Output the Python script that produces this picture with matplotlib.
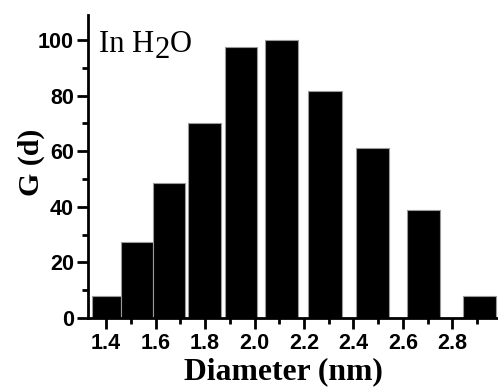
import matplotlib
matplotlib.use("Agg")
import matplotlib.pyplot as plt
from matplotlib.ticker import MultipleLocator

# Data
bin_left = [1.342, 1.462, 1.590, 1.733, 1.882, 2.042, 2.217, 2.410, 2.617, 2.841]
bin_right = [1.461, 1.589, 1.720, 1.866, 2.011, 2.177, 2.352, 2.543, 2.749, 2.976]
g_values = [7.8, 27.5, 48.5, 70.3, 97.5, 100.0, 81.5, 61.0, 39.0, 7.8]
x_ticks = [1.4, 1.6, 1.8, 2.0, 2.2, 2.4, 2.6, 2.8]
y_ticks = [0, 20, 40, 60, 80, 100]

W, H = 498, 388
fig = plt.figure(figsize=(W / 100, H / 100), dpi=100)
ax = fig.add_axes([88 / W, 70 / H, 410 / W, 303 / H])

widths = [r - l for l, r in zip(bin_left, bin_right)]
ax.bar(bin_left, g_values, width=widths, align="edge", color="black",
       edgecolor="#9a9a9a", linewidth=0.8, zorder=2)

ax.set_xlim(1.327, 2.984)
ax.set_ylim(0, 109)

for s in ["top", "right"]:
    ax.spines[s].set_visible(False)
for s in ["left", "bottom"]:
    ax.spines[s].set_linewidth(2)
    ax.spines[s].set_zorder(3)

ax.set_xticks(x_ticks)
ax.set_xticklabels([f"{v:.1f}" for v in x_ticks])
ax.set_yticks(y_ticks)
ax.xaxis.set_minor_locator(MultipleLocator(0.1))
ax.yaxis.set_minor_locator(MultipleLocator(10))
ax.tick_params(which="major", direction="out", length=8, width=2)
ax.tick_params(which="minor", direction="out", length=4.5, width=2)
ax.tick_params(axis="x", which="major", pad=3)
ax.tick_params(axis="y", which="major", pad=2)
for lab in ax.get_xticklabels():
    lab.set_fontfamily("Liberation Sans")
    lab.set_fontweight("bold")
    lab.set_fontsize(15.5)
for lab in ax.get_yticklabels():
    lab.set_fontfamily("Liberation Sans")
    lab.set_fontweight("bold")
    lab.set_fontsize(15.5)

ax.set_xlabel("Diameter (nm)", fontfamily="Liberation Serif", fontweight="bold",
              fontsize=22.8)
ax.xaxis.set_label_coords(0.4756, -0.203, transform=ax.transAxes)
ax.xaxis.label.set_va("baseline")
ax.set_ylabel("G (d)", fontfamily="Liberation Serif", fontweight="bold",
              fontsize=21.5)
ax.yaxis.set_label_coords(-0.105, 0.513)

# "In H2O" annotation with a lowered full-size 2
fs = 22
base_y = (H - 51.5) / H
t1 = fig.text(99 / W, base_y, "In H", fontfamily="Liberation Serif", fontsize=fs,
              va="baseline", ha="left")
fig.canvas.draw()
r = fig.canvas.get_renderer()
bb1 = t1.get_window_extent(r)
t2 = fig.text(bb1.x1 / W, (H - 51.5 - 6) / H, "2", fontfamily="Liberation Serif",
              fontsize=fs, va="baseline", ha="left")
fig.canvas.draw()
bb2 = t2.get_window_extent(r)
fig.text(bb2.x1 / W, base_y, "O", fontfamily="Liberation Serif", fontsize=fs,
         va="baseline", ha="left")

fig.savefig("out.png", dpi=100)
